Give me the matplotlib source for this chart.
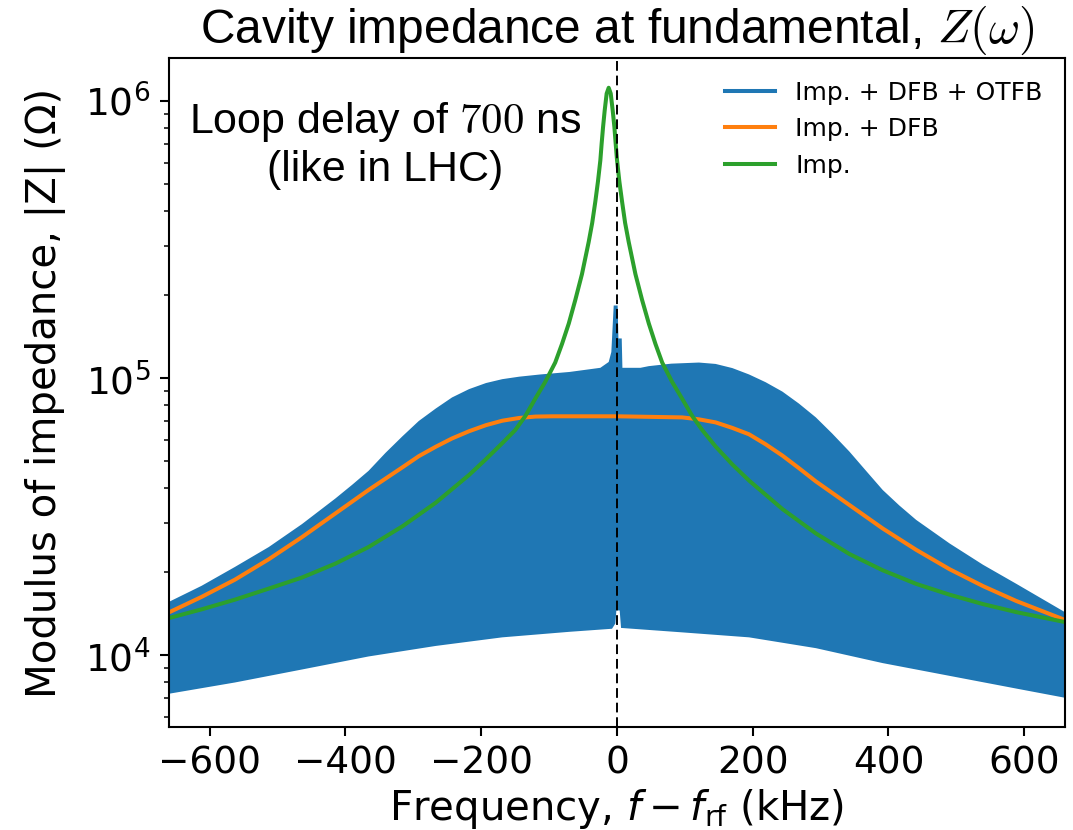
import numpy as np
import matplotlib
matplotlib.use("Agg")
import matplotlib.pyplot as plt

# values, frequency in kHz, impedance as log10(|Z| / Ohm)

# Imp. + DFB + OTFB : the fast oscillation fills a band, keep its upper / lower envelope
otfb_hi_f = [-661, -612, -563, -513, -464, -415, -390, -366, -341, -316, -292, -267, -243,
             -218, -193, -169, -144, -113, -70, -24.5, -12.2, -8.3, -4.8, 1.0, 2.1, 7.0, 8.0,
             34.6, 46.8, 80, 120.7, 145.3, 170, 194.6, 219, 243.8, 268, 293, 317, 342.3, 367,
             391.5, 416, 440.8, 490, 539.3, 588.5, 662]
otfb_hi_z = [4.191, 4.250, 4.318, 4.390, 4.473, 4.565, 4.615, 4.665, 4.730, 4.790, 4.845, 4.890, 4.930,
             4.960, 4.982, 4.996, 5.005, 5.013, 5.022, 5.037, 5.058, 5.094, 5.262, 5.262, 5.143, 5.143, 5.037,
             5.037, 5.043, 5.052, 5.056, 5.051, 5.036, 5.013, 4.985, 4.951, 4.908, 4.858, 4.800, 4.735, 4.665,
             4.596, 4.540, 4.488, 4.403, 4.326, 4.257, 4.152]
otfb_lo_f = [-661, -563, -464, -366, -267, -169, -70, -7.3, -2.4, -0.9, 4.0, 6.0,
             96, 194.6, 293, 391.5, 490, 588.5, 662]
otfb_lo_z = [3.860, 3.901, 3.948, 3.995, 4.033, 4.064, 4.084, 4.095, 4.114, 4.161, 4.161, 4.098,
             4.082, 4.064, 4.025, 3.971, 3.925, 3.879, 3.845]

# Imp. + DFB
dfb_f = [-661, -612, -563, -513, -464, -415, -366, -316, -292, -267, -243, -218, -193, -169, -144,
         -120, -95, 0, 96, 120.7, 145.3, 170, 194.6, 219, 243.8, 268, 293, 342.3, 391.5, 440.8, 490,
         539.3, 588.5, 662]
dfb_z = [4.153, 4.210, 4.272, 4.346, 4.426, 4.511, 4.596, 4.678, 4.718, 4.752, 4.782, 4.808, 4.830, 4.846, 4.856,
         4.861, 4.862, 4.862, 4.858, 4.851, 4.840, 4.820, 4.797, 4.761, 4.720, 4.675, 4.627, 4.542, 4.457, 4.380, 4.310,
         4.249, 4.195, 4.125]

# Imp.
imp_f = [-661, -612, -563, -513, -464, -415, -366, -316, -267, -218, -194, -169, -150, -135, -120.5,
         -105.7, -91, -81, -71, -61.4, -51.6, -41.7, -36.5, -31.9, -28, -24.5, -22.6, -20.5, -18.1, -15.2,
         -12.2, -9.2, -6.3, -3.8, -1.9, 0.1, 3.5, 7.5, 12, 17.3, 27.2, 37.0, 46.9, 56.7, 66.6,
         81.3, 96.1, 110.9, 125.7, 145.3, 170, 194.6, 243.8, 293.1, 342.3, 391.6, 440.8, 490, 539.3, 588.5,
         662.3]
imp_z = [4.133, 4.165, 4.200, 4.240, 4.280, 4.330, 4.390, 4.465, 4.550, 4.650, 4.705, 4.765, 4.812, 4.863, 4.925,
         4.986, 5.056, 5.123, 5.197, 5.282, 5.375, 5.491, 5.560, 5.637, 5.710, 5.786, 5.846, 5.906, 5.966, 6.027,
         6.048, 6.027, 5.966, 5.906, 5.846, 5.786, 5.710, 5.637, 5.560, 5.491, 5.375, 5.282, 5.197, 5.123, 5.056,
         4.986, 4.925, 4.863, 4.812, 4.753, 4.688, 4.630, 4.527, 4.439, 4.365, 4.306, 4.257, 4.218, 4.184, 4.155,
         4.118]

labels = ["Imp. + DFB + OTFB", "Imp. + DFB", "Imp."]
lw = 2.9

fig = plt.figure(figsize=(10.73, 8.3), dpi=100)
ax = fig.add_axes([0.1575, 0.1241, 0.835, 0.806])

band_f = np.concatenate([otfb_hi_f, otfb_lo_f[::-1]])
band_z = 10 ** np.concatenate([otfb_hi_z, otfb_lo_z[::-1]])
ax.fill(band_f, band_z, color="C0", lw=0)
ax.plot([], [], color="C0", lw=lw, label=labels[0])
ax.plot(dfb_f, 10 ** np.array(dfb_z), color="C1", lw=lw, label=labels[1])
ax.plot(imp_f, 10 ** np.array(imp_z), color="C2", lw=lw, label=labels[2])
ax.axvline(0, color="k", lw=1.4, ls=(0, (5, 2.5)))

ax.set_yscale("log")
ax.set_xlim(-660, 660)
ax.set_ylim(5.5e3, 1.43e6)
ax.set_xticks([-600, -400, -200, 0, 200, 400, 600])

for s in ax.spines.values():
    s.set_linewidth(1.5)
ax.tick_params(which="major", length=6.7, width=1.5, pad=6.5, labelsize=27)
ax.tick_params(which="minor", length=3.8, width=1.1)

ax.set_xlabel(r"Frequency, $f-f_{\rm rf}$ (kHz)", fontsize=29, labelpad=4)
ax.set_ylabel("Modulus of impedance, |Z| (Ω)", fontsize=29, labelpad=14)
ax.set_title(r"Cavity impedance at fundamental, $Z(\omega)$", fontsize=34.5,
             family="Liberation Sans", math_fontfamily="cm", pad=11)
ax.text(0.241, 0.87, "Loop delay of $700$ ns\n(like in LHC)", transform=ax.transAxes,
        ha="center", va="center", fontsize=31, family="Liberation Sans",
        math_fontfamily="cm", linespacing=1.2)

ax.legend(loc="upper right", frameon=False, fontsize=18, handlelength=2.0)

fig.savefig("out.png", dpi=100)
